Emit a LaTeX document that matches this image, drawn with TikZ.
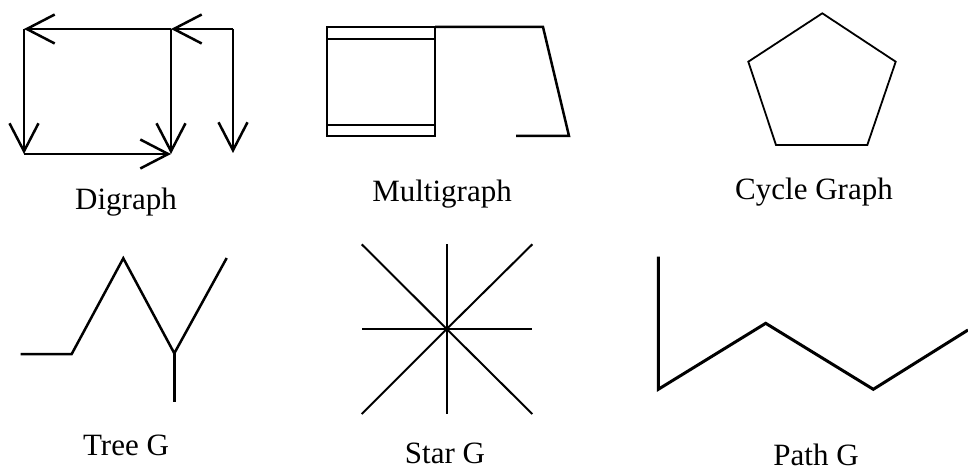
\documentclass[tikz,border=0pt]{standalone}
\usepackage{fontspec}
\setmainfont{Liberation Serif}
\usetikzlibrary{arrows.meta}
\begin{document}
\begin{tikzpicture}[x=1pt,y=-1pt,
  edge/.style={line width=2.5pt,line join=miter},
  thin edge/.style={line width=1.8pt,line join=miter},
  darc/.style={edge,-{Straight Barb[length=28pt,width=29pt]}},
  lbl/.style={anchor=base,inner sep=0pt,font=\fontsize{31}{37}\selectfont}]
\useasboundingbox (0,0) rectangle (968,470);
% ---------- Digraph ----------
\coordinate (d1) at (24,29);
\coordinate (d2) at (171,29);
\coordinate (d3) at (233,29);
\coordinate (d4) at (24,154);
\coordinate (d5) at (171,154);
\coordinate (d6) at (233,153);
\draw[darc] (d2) -- (d1);
\draw[darc] (d3) -- (d2);
\draw[darc] (d1) -- (d4);
\draw[darc] (d4) -- (d5);
\draw[darc] (d2) -- (d5);
\draw[darc] (d3) -- (d6);
\node[lbl] (ldig) at (126,210) {Digraph};
% ---------- Multigraph ----------
\coordinate (m1) at (327,27);
\coordinate (m2) at (435,27);
\coordinate (m3) at (435,136);
\coordinate (m4) at (327,136);
\coordinate (m1a) at (327,39);
\coordinate (m2a) at (435,39);
\coordinate (m4a) at (327,125);
\coordinate (m3a) at (435,125);
\coordinate (m5) at (543,27);
\coordinate (m6) at (569,136);
\coordinate (m7) at (516,136);
\draw[edge] (m1) -- (m2) -- (m3) -- (m4) -- cycle;
\draw[edge] (m1a) -- (m2a);
\draw[edge] (m4a) -- (m3a);
\draw[edge] (m2) -- (m5) -- (m6) -- (m7);
\node[lbl] (lmul) at (442,201.5) {Multigraph};
% ---------- Cycle Graph ----------
\coordinate (c1) at (822.3,13.3);
\coordinate (c2) at (895.7,61.7);
\coordinate (c3) at (867.3,145);
\coordinate (c4) at (776,145);
\coordinate (c5) at (748.3,61.7);
\draw[thin edge] (c1) -- (c2) -- (c3) -- (c4) -- (c5) -- cycle;
\node[lbl] (lcyc) at (814,200) {Cycle Graph};
% ---------- Tree G ----------
\coordinate (t1) at (20.7,354);
\coordinate (t2) at (71.7,354);
\coordinate (t3) at (123.3,258.3);
\coordinate (t4) at (174.3,353.3);
\coordinate (t5) at (226.7,258);
\coordinate (t6) at (174.3,402.3);
\draw[edge] (t1) -- (t2) -- (t3) -- (t4) -- (t5);
\draw[edge] (t4) -- (t6);
\node[lbl] (ltree) at (126,455) {Tree G};
% ---------- Star G ----------
\coordinate (s0) at (446.7,329);
\coordinate (sN) at (446.7,244.3);
\coordinate (sS) at (446.7,414);
\coordinate (sW) at (361.7,329);
\coordinate (sE) at (532.3,329);
\coordinate (sNW) at (361.7,244.3);
\coordinate (sNE) at (532.3,244.3);
\coordinate (sSW) at (361.7,414);
\coordinate (sSE) at (532.3,414);
\foreach \p in {sN,sS,sW,sE,sNW,sNE,sSW,sSE}
  \draw[line width=2pt] (s0) -- (\p);
\node[lbl] (lstar) at (445,463.5) {Star G};
% ---------- Path G ----------
\coordinate (p1) at (658.3,256.7);
\coordinate (p2) at (658.3,389.3);
\coordinate (p3) at (765.7,323.3);
\coordinate (p4) at (873.3,389.3);
\coordinate (p5) at (968,330);
\draw[line width=3pt,line join=miter] (p1) -- (p2) -- (p3) -- (p4) -- (p5);
\node[lbl] (lpath) at (816,465) {Path G};
\end{tikzpicture}
\end{document}
